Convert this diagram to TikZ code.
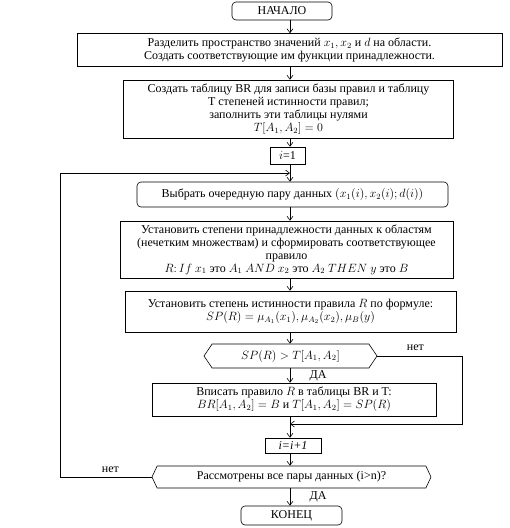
\documentclass[tikz,border=0pt]{standalone}
\usepackage{fontspec}
\setmainfont{Liberation Serif}
\usetikzlibrary{arrows.meta, shapes.symbols}

\begin{document}
\begin{tikzpicture}[x=1pt, y=-1pt,
    >={Straight Barb[length=4pt, width=6pt]},
    line width=0.6pt,
    every node/.style={font=\fontsize{12}{13}\selectfont},
    size/.style 2 args={minimum width=#1pt, minimum height=#2pt},
    block/.style={draw, align=center, inner sep=1pt},
    term/.style={block, rounded corners=4pt},
    test/.style={draw, signal, signal to=west and east, signal pointer angle=#1, inner sep=1pt},
]
    \useasboundingbox (0,0) rectangle (510,528);
    \coordinate (axis) at (290,0);

    % blocks
    \node[term, size={100}{18}] (start) at (282,11) {НАЧАЛО};
    \node[block, size={425}{33}] (split) at (289.5,50) {Разделить пространство значений $x_1, x_2$ и $d$ на области.\\Создать соответствующие им функции принадлежности.};
    \node[block, size={330}{58}] (tables) at (288.5,109) {Создать таблицу BR для записи базы правил и таблицу\\T степеней истинности правил;\\заполнить эти таблицы нулями\\$T[A_1, A_2] = 0$};
    \node[block, size={35}{17}] (init) at (287.5,155.5) {$i$=1};
    \node[term, size={311}{25}] (pick) at (292.5,194.5) {Выбрать очередную пару данных $(x_1(i), x_2(i); d(i))$};
    \node[block, size={333}{57}] (member) at (286.5,249.5) {Установить степени принадлежности данных к областям\\(нечетким множествам) и сформировать соответствующее\\правило\\$R\colon If\ x_1$ это $A_1$ $AND$ $x_2$ это $A_2$ $THEN$ $y$ это $B$};
    \node[block, size={331}{41}] (degree) at (290.5,311.5) {Установить степень истинности правила $R$ по формуле:\\$SP(R) = \mu_{A_1}(x_1), \mu_{A_2}(x_2), \mu_B(y)$};
    \node[test=112, size={173}{24}] (cmp) at (290.5,356) {$SP(R) > T[A_1, A_2]$};
    \node[block, size={284}{33}] (write) at (294,399.5) {Вписать правило $R$ в таблицы BR и T:\\$BR[A_1, A_2] = B$ и $T[A_1, A_2] = SP(R)$};
    \node[block, size={56}{15}] (inc) at (293,445.5) {\textit{i=i+1}};
    \node[test=130, size={279}{22}] (done) at (291.5,477) {Рассмотрены все пары данных (i>n)?};
    \node[term, size={101}{19}] (stop) at (291.5,515.5) {КОНЕЦ};

    % main flow
    \draw[->] (start.south -| axis) -- (split.north -| axis);
    \draw[->] (split.south -| axis) -- (tables.north -| axis);
    \draw[->] (tables.south -| axis) -- (init.north -| axis);
    \draw[->] (init.south -| axis) -- (pick.north -| axis);
    \draw[->] (pick.south -| axis) -- (member.north -| axis);
    \draw[->] (member.south -| axis) -- (degree.north -| axis);
    \draw[->] (degree.south -| axis) -- (cmp.north -| axis);
    \draw[->] (cmp.south -| axis) -- node[right=16pt] {ДА} (write.north -| axis);
    \draw[->] (write.south -| axis) -- (inc.north -| axis);
    \draw[->] (inc.south -| axis) -- (done.north -| axis);
    \draw[->] (done.south -| axis) -- node[right=16pt] {ДА} (stop.north -| axis);

    % branch "нет" of the comparison
    \coordinate (merge) at (290,424);
    \coordinate (skip) at (462,356);
    \draw[->] (cmp.east) -- node[above=2pt, pos=0.45] {нет} (skip) -- (skip |- merge) -- (merge);

    % loop back
    \coordinate (loopx) at (60,0);
    \coordinate (loopin) at (290,173);
    \draw[->] (done.west) -- node[above=1pt, pos=0.45] {нет} (done.west -| loopx) -- (loopx |- loopin) -- (loopin);
\end{tikzpicture}
\end{document}
